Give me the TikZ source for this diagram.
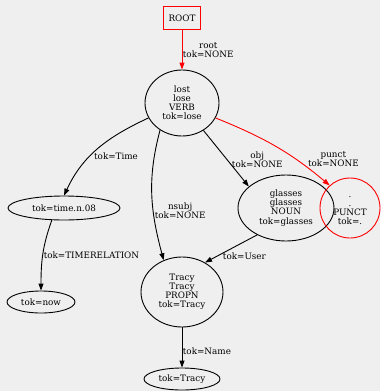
\documentclass[tikz,border=0pt]{standalone}
\usepackage{fontspec}
\setmainfont{DejaVu Serif}
\usepackage{tikz}
\usetikzlibrary{shapes.geometric, arrows.meta, positioning}
\usepackage{xcolor}
\definecolor{canvas}{RGB}{239,239,239}
\definecolor{deprel}{RGB}{255,0,0}
\newcommand{\parsefont}{\fontsize{8.8}{9.1}\selectfont}
\tikzstyle{rootbox} = [rectangle, minimum width=37pt, minimum height=23pt,
                       text centered, draw=deprel, line width=0.9pt, font=\parsefont]
\tikzstyle{word}    = [ellipse, inner sep=0pt, text centered, align=center,
                       draw=black, line width=0.9pt, font=\parsefont]
\tikzstyle{punctnode} = [circle, minimum size=60pt, inner sep=0pt, text centered,
                       align=center, draw=deprel, line width=0.9pt, font=\parsefont]
\tikzstyle{lbl}     = [align=center, inner sep=0.5pt, text=black, font=\parsefont]
\tikzstyle{arrow}   = [line width=0.9pt, ->, >={Triangle[length=7pt, width=5pt]}]

\begin{document}
\begin{tikzpicture}[x=1pt, y=1pt, node distance=90pt]
  \fill[canvas] (0,0) rectangle (380,-391);
  \node (root)     [rootbox] at (182,-18) {ROOT};
  \node (lost)     [word, minimum width=74pt, minimum height=66pt, below of=root, yshift=5pt]
                   {lost\\lose\\VERB\\tok=lose};
  \node (time)     [word, minimum width=112pt, minimum height=24pt, below of=lost,
                    xshift=-118pt, yshift=-15pt] {tok=time.n.08};
  \node (now)      [word, minimum width=68pt, minimum height=22pt, below of=time,
                    xshift=-23pt, yshift=-4pt] {tok=now};
  \node (glasses)  [word, minimum width=96pt, minimum height=66pt, below of=lost,
                    xshift=104pt, yshift=-15pt] {glasses\\glasses\\NOUN\\tok=glasses};
  \node (punct)    [punctnode, right of=glasses, xshift=-26pt]
                   {.\vphantom{P}\\.\\PUNCT\\tok=.};
  \node (tracy)    [word, minimum width=82pt, minimum height=70pt, below of=lost,
                    node distance=189pt] {Tracy\\Tracy\\PROPN\\tok=Tracy};
  \node (tracytok) [word, minimum width=76pt, minimum height=22pt, below of=tracy,
                    node distance=87pt] {tok=Tracy};

  \draw[arrow, deprel] (root) -- node[lbl, right] {root\\tok=NONE} (lost);
  \draw[arrow] (lost.204) to[out=205, in=65]
        node[lbl, pos=0.6, right=3pt] {tok=Time} (time.90);
  \draw[arrow] (time.225) to[out=-110, in=90]
        node[lbl, pos=0.5, right=0pt] {tok=TIMERELATION} (now.90);
  \draw[arrow] (lost.231) to[out=-105, in=105]
        node[lbl, pos=0.6, right=1pt, yshift=-3pt] {nsubj\\tok=NONE} (tracy.120);
  \draw[arrow] (lost.-52) -- node[lbl, pos=0.52, right=4pt] {obj\\tok=NONE} (glasses.150);
  \draw[arrow, deprel] (lost.-24) to[out=-22, in=140]
        node[lbl, pos=0.8, above right=0pt] {punct\\tok=NONE} (punct.132);
  \draw[arrow] (glasses.223) -- node[lbl, pos=0.77, right=5pt] {tok=User} (tracy.52);
  \draw[arrow] (tracy) -- node[lbl, pos=0.59, right=0pt] {tok=Name} (tracytok);
\end{tikzpicture}
\end{document}
